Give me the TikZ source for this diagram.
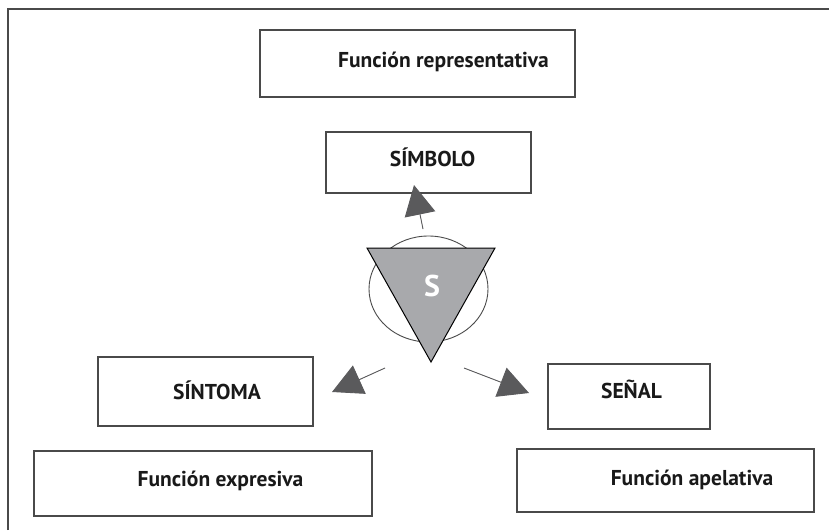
\documentclass[tikz,border=0pt]{standalone}
\usepackage{fontspec}
\setmainfont{PT Sans}
\usepackage{tikz}
\usetikzlibrary{arrows.meta,shapes.geometric}
\definecolor{frame}{HTML}{4A4A4A}
\definecolor{sfill}{HTML}{A8A9AC}
\definecolor{tip}{HTML}{5A5A5C}
\tikzset{
  box/.style={draw=frame,line width=1.2pt,inner sep=0pt},
  lbl/.style={font=\fontsize{21.5}{24}\selectfont\bfseries,text=black!90,inner sep=0pt},
  fn/.style={-{Triangle[length=30pt,width=31pt]},draw=tip,fill=tip,line width=0.9pt}
}

\begin{document}
\begin{tikzpicture}[x=1pt,y=-1pt]
  \useasboundingbox (0,0) rectangle (829,530);
  \draw[frame,line width=1.5pt] (8,530) -- (8,9) -- (829,9);

  % boxes
  \node[box,minimum width=315pt,minimum height=67pt] (rep) at (417.5,63.5) {};
  \node[box,minimum width=205pt,minimum height=61pt] (simb) at (428.5,162.5) {};
  \node[box,minimum width=215pt,minimum height=69pt] (sint) at (205.5,391.5) {};
  \node[box,minimum width=162pt,minimum height=65pt] (senal) at (629,396.5) {};
  \node[box,minimum width=338pt,minimum height=65pt] (expr) at (203,483.5) {};
  \node[box,minimum width=297pt,minimum height=63pt] (apel) at (665.5,480.5) {};

  % texts
  \node[lbl] (trep) at (443.5,62) {Función representativa};
  \node[lbl] (tsimb) at (432.5,157) {SÍMBOLO};
  \node[lbl] (tsint) at (217,390) {SÍNTOMA};
  \node[lbl] (tsenal) at (631.5,389) {SEÑAL};
  \node[lbl] (texpr) at (220.5,481) {Función expresiva};
  \node[lbl] (tapel) at (692,480) {Función apelativa};

  % centre
  \node[draw=frame,line width=0.9pt,ellipse,minimum width=119pt,minimum height=106pt,inner sep=0pt] (ell) at (428.5,289) {};
  \draw[black,line width=1pt,fill=sfill,line join=miter] (367,248) -- (495,248) -- (431,362) -- cycle;
  \node[font=\fontsize{30}{32}\selectfont\bfseries,text=white] (s) at (432,286) {S};

  % arrows
  \coordinate (a1) at (423,229); \coordinate (b1) at (414,185);
  \coordinate (a2) at (385,368); \coordinate (b2) at (332,392);
  \coordinate (a3) at (464,368); \coordinate (b3) at (529,393);
  \draw[fn] (a1) -- (b1);
  \draw[fn] (a2) -- (b2);
  \draw[fn] (a3) -- (b3);
\end{tikzpicture}
\end{document}
